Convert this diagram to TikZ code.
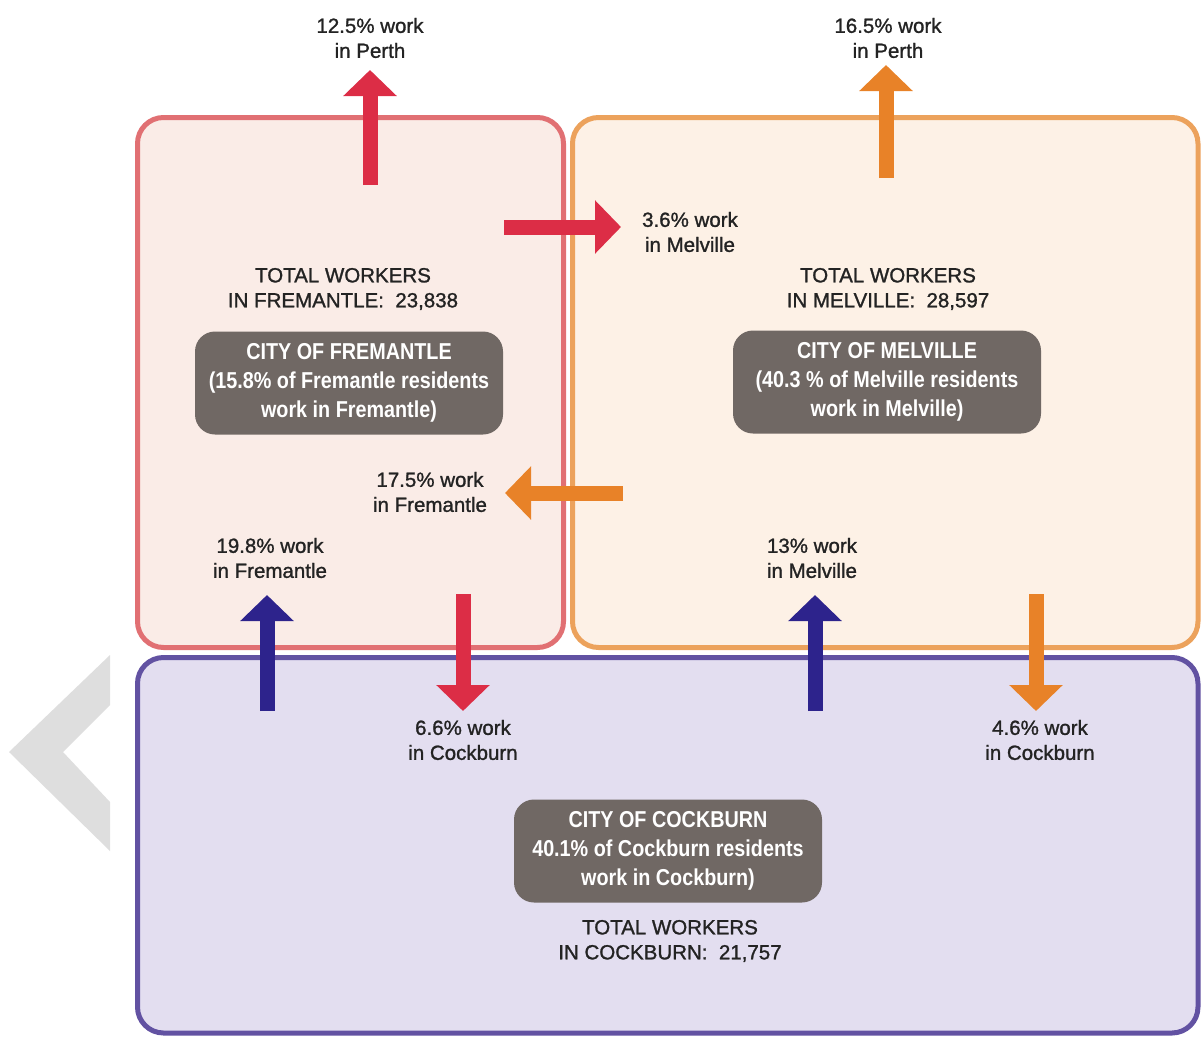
\documentclass[tikz,border=0pt]{standalone}
\usepackage{fontspec}
\setmainfont{Liberation Sans}[FakeBold=1.2]
\newfontfamily\condfont[FakeStretch=0.86]{Liberation Sans}
\usepackage{xcolor}
\usepackage{tikz}
\usetikzlibrary{arrows.meta,positioning}
\definecolor{fremred}{RGB}{225, 112, 115}
\definecolor{fremfill}{RGB}{250, 236, 231}
\definecolor{melvorange}{RGB}{236, 162, 92}
\definecolor{melvfill}{RGB}{253, 241, 230}
\definecolor{cockpurple}{RGB}{98, 82, 162}
\definecolor{cockfill}{RGB}{227, 222, 240}
\definecolor{cityslate}{RGB}{112, 104, 100}
\definecolor{inkgrey}{RGB}{35, 35, 35}
\definecolor{flowred}{RGB}{220, 45, 70}
\definecolor{floworange}{RGB}{232, 130, 40}
\definecolor{flowblue}{RGB}{45, 35, 140}
\definecolor{chevgrey}{RGB}{222, 222, 222}

\tikzset{
  region/.style={line width=5pt, rounded corners=26pt},
  citybox/.style={fill=cityslate, rounded corners=20pt, text=white, align=center,
    font=\condfont\bfseries\fontsize{23}{29}\selectfont,
    minimum width=308pt, minimum height=103pt, inner sep=0pt},
  flowtxt/.style={text=inkgrey, align=center, font=\fontsize{20.5}{25}\selectfont},
  flow/.style={line width=15pt, -{Triangle[length=26pt,width=52pt]}},
}

\begin{document}
\begin{tikzpicture}[x=1pt, y=-1pt]
    \useasboundingbox (0,0) rectangle (1203,1037);
    % the three regions
    \draw[region, draw=fremred, fill=fremfill] (137.5,117.5) rectangle (563.5,647.5);
    \draw[region, draw=melvorange, fill=melvfill] (572.5,117.5) rectangle (1198,647.5);
    \draw[region, draw=cockpurple, fill=cockfill] (137.5,657.5) rectangle (1198,1033);
    \fill[chevgrey] (110,655) -- (9,752) -- (110,851) -- (110,802) -- (63,752) -- (110,705) -- cycle;

    % city boxes and totals
    \node[citybox] (fremantle) at (349,383) {CITY OF FREMANTLE\\(15.8\% of Fremantle residents\\work in Fremantle)};
    \node[citybox] (melville) at (887,382) {CITY OF MELVILLE\\(40.3 \% of Melville residents\\work in Melville)};
    \node[citybox] (cockburn) at (668,851) {CITY OF COCKBURN\\40.1\% of Cockburn residents\\work in Cockburn)};
    \node[flowtxt] (totfrem) at (343,289) {TOTAL WORKERS\\IN FREMANTLE:\ \ 23,838};
    \node[flowtxt] (totmelv) at (888,289) {TOTAL WORKERS\\IN MELVILLE:\ \ 28,597};
    \node[flowtxt] (totcock) at (670,941) {TOTAL WORKERS\\IN COCKBURN:\ \ 21,757};

    % flow labels
    \node[flowtxt] (perthfrem) at (370,38) {12.5\% work\\in Perth};
    \node[flowtxt] (perthmelv) at (888,38) {16.5\% work\\in Perth};
    \node[flowtxt] (melvfrem) at (690,232) {3.6\% work\\in Melville};
    \node[flowtxt] (fremmelv) at (430,492) {17.5\% work\\in Fremantle};
    \node[flowtxt] (fremcock) at (270,558) {19.8\% work\\in Fremantle};
    \node[flowtxt] (melvcock) at (812,558) {13\% work\\in Melville};
    \node[flowtxt] (cockfrem) at (463,740) {6.6\% work\\in Cockburn};
    \node[flowtxt] (cockmelv) at (1040,740) {4.6\% work\\in Cockburn};

    % flows
    \coordinate (fp0) at (370,185);  \coordinate (fp1) at (370,70);
    \coordinate (mp0) at (886,178);  \coordinate (mp1) at (886,65);
    \coordinate (fm0) at (504,227);  \coordinate (fm1) at (621,227);
    \coordinate (mf0) at (623,493);  \coordinate (mf1) at (505,493);
    \coordinate (cf0) at (267,711);  \coordinate (cf1) at (267,595);
    \coordinate (fc0) at (463,594);  \coordinate (fc1) at (463,711);
    \coordinate (cm0) at (815,711);  \coordinate (cm1) at (815,595);
    \coordinate (mc0) at (1036,594); \coordinate (mc1) at (1036,711);
    \draw[flow, flowred] (fp0) -- (fp1);
    \draw[flow, floworange] (mp0) -- (mp1);
    \draw[flow, flowred] (fm0) -- (fm1);
    \draw[flow, floworange] (mf0) -- (mf1);
    \draw[flow, flowblue] (cf0) -- (cf1);
    \draw[flow, flowred] (fc0) -- (fc1);
    \draw[flow, flowblue] (cm0) -- (cm1);
    \draw[flow, floworange] (mc0) -- (mc1);
\end{tikzpicture}
\end{document}
